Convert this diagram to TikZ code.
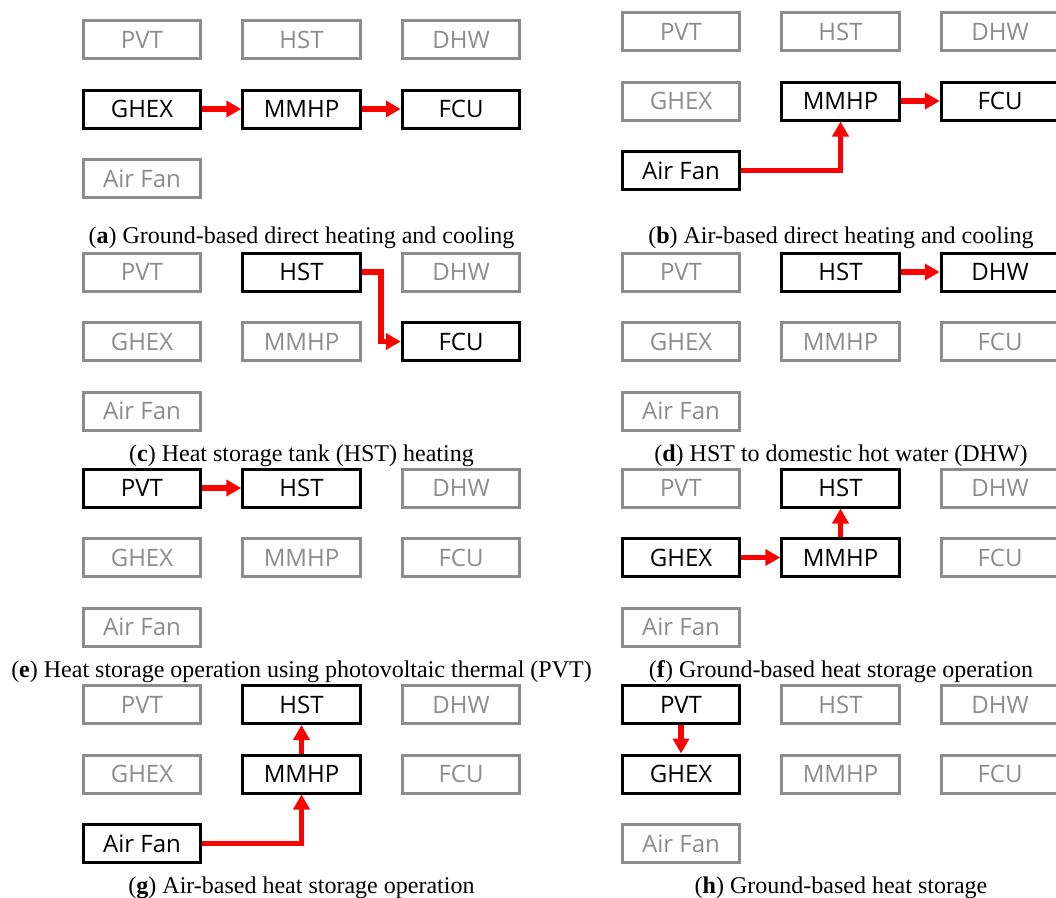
\documentclass[tikz,border=0pt]{standalone}
\usepackage{fontspec}
\setmainfont{Liberation Serif}
\newfontfamily\boxfont{Open Sans}
\usetikzlibrary{arrows.meta}
\definecolor{boxgray}{RGB}{140,140,140}
\definecolor{flowred}{RGB}{255,0,0}
\tikzset{
  unitbox/.style={rectangle, line width=3pt, minimum width=117.5pt, minimum height=38pt,
    inner sep=0pt, text height=17pt, text depth=0pt,
    font=\boxfont\fontsize{24}{28}\selectfont},
  onbox/.style={unitbox, draw=black, text=black},
  offbox/.style={unitbox, draw=boxgray, text=boxgray},
  flow/.style={draw=flowred, line width=5.5pt, line join=miter,
    -{Triangle[width=16pt,length=15pt]}},
  captext/.style={anchor=base, font=\fontsize{24}{28}\selectfont, inner sep=0pt}
}
\newcommand{\mkpanel}[9]{%
  \begin{scope}[shift={#2}]
    \node[#3] (#1-pvt) at (0,0) {PVT};
    \node[#4] (#1-hst) at (159.5,0) {HST};
    \node[#5] (#1-dhw) at (319,0) {DHW};
    \node[#6] (#1-ghex) at (0,69.5) {GHEX};
    \node[#7] (#1-mmhp) at (159.5,69.5) {MMHP};
    \node[#8] (#1-fcu) at (319,69.5) {FCU};
    \node[#9] (#1-fan) at (0,139) {Air Fan};
  \end{scope}}
\begin{document}
\begin{tikzpicture}[x=1pt,y=-1pt]
\useasboundingbox (0,0) rectangle (1056,897);
% (a)
\mkpanel{a}{(142,39.5)}{offbox}{offbox}{offbox}{onbox}{onbox}{onbox}{offbox}
\draw[flow] (a-ghex.east) -- (a-mmhp.west);
\draw[flow] (a-mmhp.east) -- (a-fcu.west);
\node[captext] (capa) at (301.5,243) {(\textbf{a}) Ground-based direct heating and cooling};
% (b)
\mkpanel{b}{(681,31.5)}{offbox}{offbox}{offbox}{offbox}{onbox}{onbox}{onbox}
\draw[flow] (b-fan.east) -| (b-mmhp.south);
\draw[flow] (b-mmhp.east) -- (b-fcu.west);
\node[captext] (capb) at (841,243) {(\textbf{b}) Air-based direct heating and cooling};
% (c)
\mkpanel{c}{(142,272)}{offbox}{onbox}{offbox}{offbox}{offbox}{onbox}{offbox}
\draw[flow] (c-hst.east) -- ++(19,0) |- (c-fcu.west);
\node[captext] (capc) at (301.5,461) {(\textbf{c}) Heat storage tank (HST) heating};
% (d)
\mkpanel{d}{(681,272)}{offbox}{onbox}{onbox}{offbox}{offbox}{offbox}{offbox}
\draw[flow] (d-hst.east) -- (d-dhw.west);
\node[captext] (capd) at (841,461) {(\textbf{d}) HST to domestic hot water (DHW)};
% (e)
\mkpanel{e}{(142,488)}{onbox}{onbox}{offbox}{offbox}{offbox}{offbox}{offbox}
\draw[flow] (e-pvt.east) -- (e-hst.west);
\node[captext] (cape) at (301.5,677) {(\textbf{e}) Heat storage operation using photovoltaic thermal (PVT)};
% (f)
\mkpanel{f}{(681,488)}{offbox}{onbox}{offbox}{onbox}{onbox}{offbox}{offbox}
\draw[flow] (f-ghex.east) -- (f-mmhp.west);
\draw[flow] (f-mmhp.north) -- (f-hst.south);
\node[captext] (capf) at (841,677) {(\textbf{f}) Ground-based heat storage operation};
% (g)
\mkpanel{g}{(142,704.5)}{offbox}{onbox}{offbox}{offbox}{onbox}{offbox}{onbox}
\draw[flow] (g-fan.east) -| (g-mmhp.south);
\draw[flow] (g-mmhp.north) -- (g-hst.south);
\node[captext] (capg) at (301.5,893) {(\textbf{g}) Air-based heat storage operation};
% (h)
\mkpanel{h}{(681,704.5)}{onbox}{offbox}{offbox}{onbox}{offbox}{offbox}{offbox}
\draw[flow] (h-pvt.south) -- (h-ghex.north);
\node[captext] (caph) at (841,893) {(\textbf{h}) Ground-based heat storage};
\end{tikzpicture}
\end{document}
